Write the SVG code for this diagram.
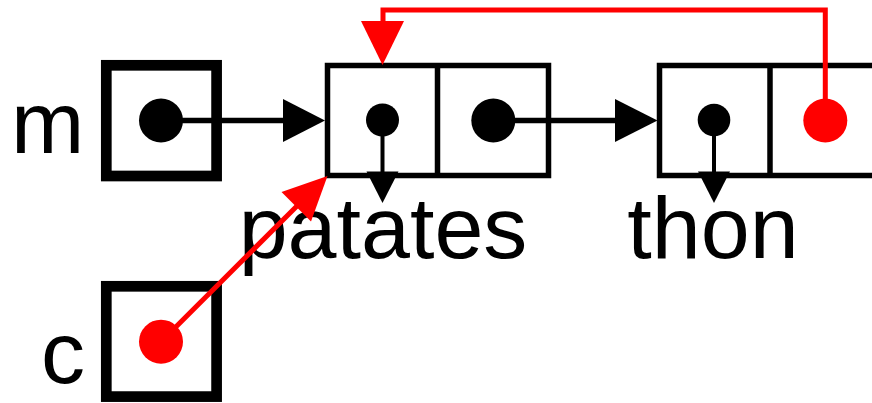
<svg xmlns="http://www.w3.org/2000/svg" width="872" height="403" viewBox="0 0 872 403">
<style>
.var{fill:#fff;stroke:#000;stroke-width:10.7}
.cell{fill:#fff;stroke:#000;stroke-width:5.5}
.lbl{font-family:"Liberation Sans",Arial,sans-serif;font-size:88px;fill:#000}
.bl{stroke:#000;stroke-width:5.5;fill:none}
.bt{stroke:#000;stroke-width:4;fill:none}
.rl{stroke:#f00;stroke-width:5;fill:none}
</style>
<rect width="872" height="403" fill="#fff"/>
<g id="var-m">
<text class="lbl" x="11" y="153">m</text>
<rect class="var" x="106.3" y="65.3" width="110.3" height="110.7"/>
</g>
<g id="var-c">
<text class="lbl" x="41" y="383">c</text>
<rect class="var" x="106.3" y="286.3" width="110.3" height="110.3"/>
</g>
<g id="cell-patates">
<rect class="cell" x="327.5" y="65.5" width="221" height="110"/>
<line class="cell" x1="437.5" y1="65.5" x2="437.5" y2="175.5"/>
<text class="lbl" x="383" y="258" text-anchor="middle">patates</text>
</g>
<g id="cell-thon">
<rect class="cell" x="659.5" y="65.5" width="221" height="110"/>
<line class="cell" x1="770" y1="65.5" x2="770" y2="175.5"/>
<text class="lbl" x="713" y="258" text-anchor="middle">thon</text>
</g>
<g id="connectors">
<line class="bl" x1="161" y1="120.5" x2="284" y2="120.5"/>
<circle cx="161" cy="120.5" r="22"/>
<polygon points="283,99 283,142 325,120.5"/>
<line class="bl" x1="493" y1="120.5" x2="616" y2="120.5"/>
<circle cx="493.3" cy="120.5" r="22"/>
<polygon points="615,99 615,142 657.5,120.5"/>
<line class="bt" x1="382.5" y1="120" x2="382.5" y2="173"/>
<circle cx="382.5" cy="120" r="16.5"/>
<polygon points="366.5,171.5 398.5,171.5 382.5,203"/>
<line class="bt" x1="714" y1="120" x2="714" y2="173"/>
<circle cx="714" cy="120" r="16.3"/>
<polygon points="698,171.5 730,171.5 714,203"/>
<path class="rl" d="M825.3,120.5 V10 H383 V24"/>
<circle cx="825.3" cy="120.5" r="22" fill="#f00"/>
<polygon points="361,21 404,21 382.5,65" fill="#f00"/>
<line class="rl" x1="161" y1="341.7" x2="300" y2="203"/>
<circle cx="161" cy="341.7" r="22" fill="#f00"/>
<polygon points="281.5,192 311,221.5 327.5,176" fill="#f00"/>
</g>
</svg>
